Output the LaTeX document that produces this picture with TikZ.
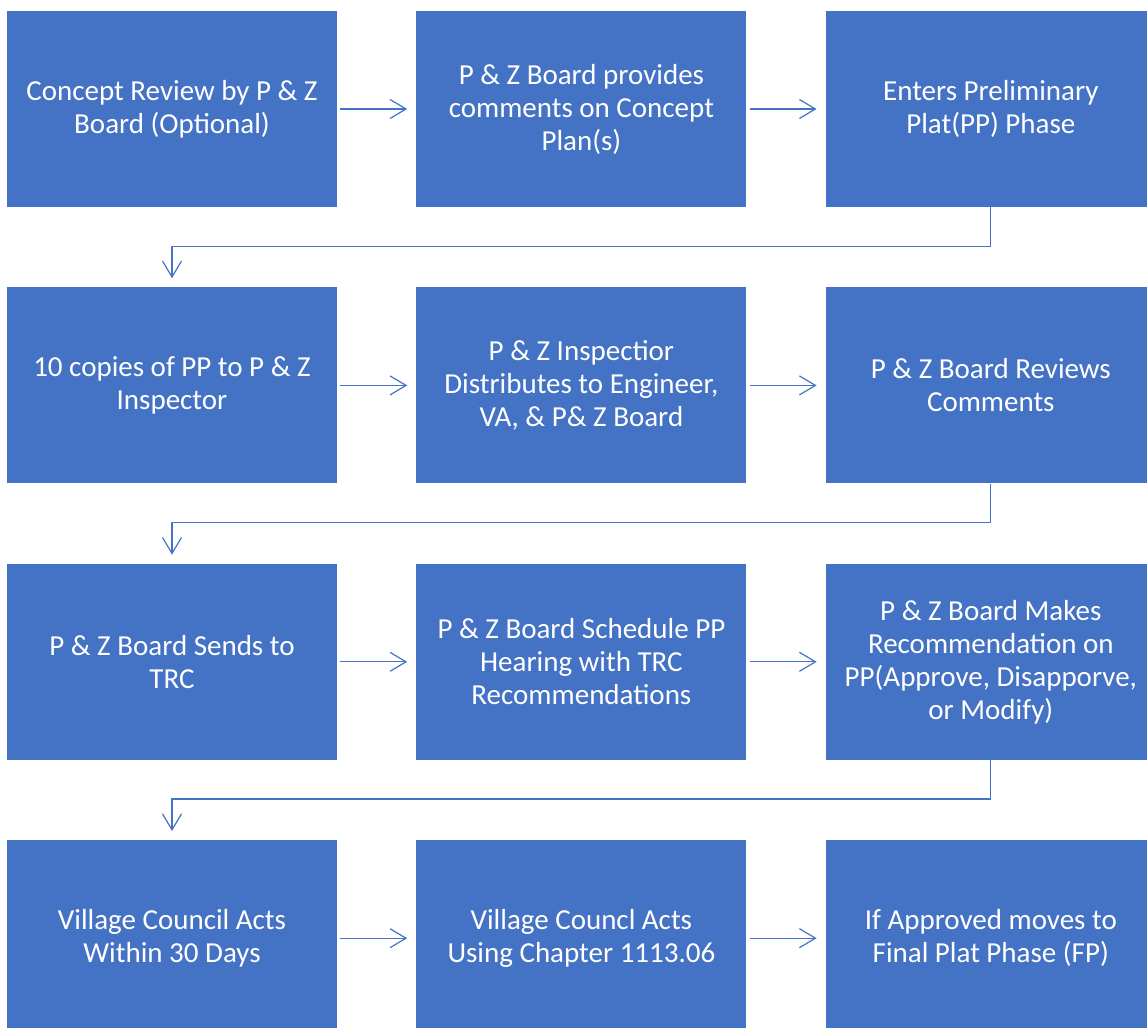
\documentclass[tikz,border=0pt]{standalone}
\usepackage{fontspec}
\setmainfont{Carlito}
\usetikzlibrary{positioning,arrows.meta}

\definecolor{boxblue}{HTML}{4472C4}
\tikzstyle{stepbox}=[fill=boxblue,rectangle,minimum width=330pt,minimum height=196pt,inner sep=0pt,text=white,align=center,font=\fontsize{29}{33}\selectfont]
\tikzstyle{flow}=[draw=boxblue,line width=1.2pt,-{Straight Barb[length=16pt,width=19pt]}]

\begin{document}
\begin{tikzpicture}[x=1pt,y=1pt,node distance=80pt and 79pt]
      \useasboundingbox (0,0) rectangle (1147,-1027);
      \clip (0,0) rectangle (1147,-1027);
      % row 1
      \node [stepbox] (concept) at (172,-109) {Concept Review by P \& Z\\Board (Optional)};
      \node [stepbox,right=of concept] (comments) {P \& Z Board provides\\comments on Concept\\Plan(s)};
      \node [stepbox,right=of comments] (prelim) {Enters Preliminary\\Plat(PP) Phase};
      % row 2
      \node [stepbox,below=of concept] (copies) {10 copies of PP to P \& Z\\Inspector};
      \node [stepbox,right=of copies] (inspector) {P \& Z Inspectior\\Distributes to Engineer,\\VA, \& P\& Z Board};
      \node [stepbox,right=of inspector] (reviews) {P \& Z Board Reviews\\Comments};
      % row 3
      \node [stepbox,below=of copies] (trc) {P \& Z Board Sends to\\TRC};
      \node [stepbox,right=of trc] (hearing) {P \& Z Board Schedule PP\\Hearing with TRC\\Recommendations};
      \node [stepbox,right=of hearing] (recommend) {P \& Z Board Makes\\Recommendation on\\PP(Approve, Disapporve,\\or Modify)};
      % row 4
      \node [stepbox,below=of trc] (council) {Village Council Acts\\Within 30 Days};
      \node [stepbox,right=of council] (chapter) {Village Councl Acts\\Using Chapter 1113.06};
      \node [stepbox,right=of chapter] (final) {If Approved moves to\\Final Plat Phase (FP)};

      % arrows along the rows
      \foreach \a/\b in {concept/comments,comments/prelim,copies/inspector,inspector/reviews,trc/hearing,hearing/recommend,council/chapter,chapter/final}
        \draw [flow,shorten <=3pt,shorten >=9pt] (\a) -- (\b);
      % arrows back to the next row
      \foreach \a/\b in {prelim/copies,reviews/trc,recommend/council}
        \draw [flow,shorten >=9pt] (\a.south) -- ++(0,-39) -| (\b.north);
\end{tikzpicture}
\end{document}
